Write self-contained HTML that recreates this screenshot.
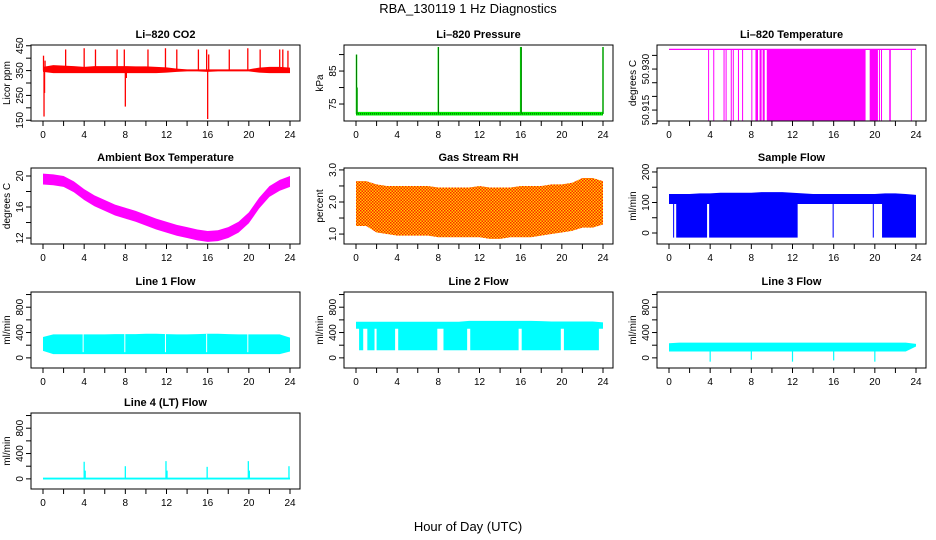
<!DOCTYPE html>
<html><head><meta charset="utf-8"><style>
html,body{margin:0;padding:0;background:#fff;}
svg{display:block;font-family:"Liberation Sans",Arial,sans-serif;}
</style></head><body>
<svg id="c" width="936" height="540" viewBox="0 0 936 540">
<defs>
<pattern id="rhpat" width="3" height="3" patternUnits="userSpaceOnUse"><rect width="3" height="3" fill="#ffd000"/><rect x="0" y="0" width="1.5" height="1.5" fill="#ff2000"/><rect x="1.5" y="1.5" width="1.5" height="1.5" fill="#ff2000"/></pattern>
</defs>
<text x="468" y="13" text-anchor="middle" font-size="13">RBA_130119  1 Hz Diagnostics</text>
<text x="468" y="531" text-anchor="middle" font-size="13">Hour of Day (UTC)</text>
</svg>
<script>
const hours = [0,1,2,3,4,5,6,7,8,9,10,11,12,13,14,15,16,17,18,19,20,21,22,23,24];
// CO2
const co2Lo = [345,340,340,340,340,340,340,340,340,340,340,340,342,345,347,347,345,347,347,347,347,342,340,340,340];
const co2Hi = [365,372,370,368,365,368,368,368,368,367,367,365,363,358,355,355,355,355,355,355,355,362,365,365,362];
const co2SpikeT = [0.05,0.1,0.15,0.2,2.2,4.0,5.1,7.2,7.9,8.0,8.1,10.2,11.9,13.0,15.1,15.9,16.0,16.1,18.1,19.9,21.1,23.0,23.3,23.8];
const co2SpikeV = [410,165,260,390,435,440,435,435,435,205,320,435,440,435,435,435,155,415,435,440,435,435,435,430];
// Pressure
const presLo = [71.5,71.5,71.5,71.5,71.5,71.5,71.5,71.5,71.5,71.5,71.5,71.5,71.5,71.5,71.5,71.5,71.5,71.5,71.5,71.5,71.5,71.5,71.5,71.5,71.5];
const presHi = [72.6,72.6,72.6,72.6,72.6,72.6,72.6,72.6,72.6,72.6,72.6,72.6,72.6,72.6,72.6,72.6,72.6,72.6,72.6,72.6,72.6,72.6,72.6,72.6,72.6];
const presSpikeT = [0.05,0.1,8.0,16.0,16.05,24.0];
const presSpikeV = [90,80,92.3,92.3,92.3,92.3];
// Li-820 temperature
const tempHigh = 50.9372, tempLow = 50.9112;
const tempDropStart = [3.8,4.3,5.3,5.5,6.0,6.2,6.7,7.1,8.0,8.4,8.8,9.1,9.5,19.5,20.4,20.6,21.4,23.5];
const tempDropEnd   = [3.85,4.35,5.35,5.55,6.1,6.25,6.8,7.2,8.05,8.65,9.0,9.3,19.1,20.3,20.45,20.65,21.55,23.55];
// Ambient box temp
const ambMid = [19.6,19.5,19.3,18.6,17.6,16.8,16.2,15.6,15.2,14.8,14.3,13.8,13.4,13.0,12.7,12.4,12.2,12.3,12.7,13.4,14.6,16.5,18.0,18.8,19.3];
const ambHalf = [0.7,0.7,0.7,0.7,0.7,0.7,0.7,0.7,0.7,0.7,0.7,0.7,0.7,0.7,0.7,0.7,0.7,0.7,0.7,0.7,0.7,0.7,0.7,0.7,0.7];
// Gas stream RH
const rhLo = [1.25,1.25,1.05,1.0,0.95,0.95,0.95,0.95,0.9,0.9,0.9,0.9,0.9,0.85,0.85,0.9,0.9,0.9,0.95,1.0,1.05,1.1,1.2,1.2,1.3];
const rhHi = [2.65,2.65,2.55,2.5,2.5,2.5,2.5,2.5,2.45,2.45,2.45,2.45,2.5,2.45,2.45,2.45,2.5,2.5,2.5,2.55,2.55,2.6,2.75,2.75,2.65];
// Sample flow
const sfLo = [95,95,95,95,95,95,95,95,95,95,95,95,95,95,95,95,95,95,95,95,95,95,95,95,95];
const sfHi = [128,128,128,130,130,132,132,132,132,134,134,134,132,130,128,128,128,128,128,128,128,130,130,128,125];
const sfDenseStart = [0.4,0.7,3.9,15.9,19.8,20.7];
const sfDenseEnd   = [0.5,3.7,12.5,16.0,19.9,24.0];
const sfDenseLow = -15;
// Line 1
const l1Lo = [110,60,60,60,60,60,60,60,60,60,60,60,60,60,60,60,60,60,60,60,60,60,60,60,100];
const l1Hi = [330,370,370,370,370,370,370,375,375,375,380,380,375,370,370,375,380,380,375,370,370,370,370,370,320];
const l1GapT = [3.9,7.95,11.9,15.9,19.9];
// Line 2
const l2Lo = [460,460,460,460,460,460,460,460,460,460,460,460,460,460,460,460,460,460,460,460,460,460,460,460,460];
const l2Hi = [570,570,570,570,570,570,570,570,570,570,570,585,585,585,585,585,585,585,580,575,575,575,575,575,560];
const l2DenseStart = [0.3,1.1,2.0,4.1,8.5,11.1,16.1,20.2];
const l2DenseEnd   = [0.7,1.8,3.8,7.9,10.8,15.8,19.9,23.6];
const l2DenseLow = 120;
// Line 3
const l3Lo = [100,100,100,100,100,100,100,100,100,100,100,100,100,100,100,100,100,100,100,100,100,100,100,100,180];
const l3Hi = [230,240,240,240,240,240,240,240,240,240,240,240,240,240,240,240,240,240,240,240,240,240,240,240,220];
const l3DipT = [4.0,8.0,12.0,16.0,20.0];
const l3DipV = [-60,-30,-60,-40,-60];
// Line 4
const l4Lo = [-10,-10,-10,-10,-10,-10,-10,-10,-10,-10,-10,-10,-10,-10,-10,-10,-10,-10,-10,-10,-10,-10,-10,-10,-10];
const l4Hi = [20,20,20,20,20,20,20,20,20,20,20,20,20,20,20,20,20,20,20,20,20,20,20,20,20];
const l4SpikeT = [4.0,4.1,8.0,11.95,12.05,15.95,19.95,20.05,23.9];
const l4SpikeV = [270,130,200,280,130,190,280,130,200];

const NS='http://www.w3.org/2000/svg';
const svg=document.getElementById('c');
function mk(tag,attrs,parent){const e=document.createElementNS(NS,tag);for(const k in attrs)e.setAttribute(k,attrs[k]);(parent||svg).appendChild(e);return e;}
const colL=[31,344,657], rowT=[45,168,292,413], BW=269, BH=76;

function panel(col,row,name,title,ylab,ymin,ymax,ticks,labels){
  const L=colL[col],T=rowT[row];
  const g=mk('g',{});
  
  
  const p={L,T,g,
    x:h=>L+12+h*(BW-22)/24,
    y:v=>T+BH-(v-ymin)/(ymax-ymin)*BH};
  const data=mk('g',{},g);
  
  
  p.d=data;
  p.finish=function(){
    const b=mk('rect',{x:L,y:T,width:BW,height:BH,fill:'none',stroke:'#000','stroke-width':1},g);
    
    
    const t=mk('text',{x:L+BW/2,y:T-7,'text-anchor':'middle','font-size':11,'font-weight':'bold'},g);
    t.textContent=title;
    
    
    const yl=mk('text',{x:0,y:0,'text-anchor':'middle','font-size':10,transform:`translate(${L-21},${T+BH/2}) rotate(-90)`},g);
    yl.textContent=ylab;
    
    
    const xa=mk('g',{},g);
    
    
    mk('line',{x1:p.x(0),x2:p.x(24),y1:T+BH,y2:T+BH,stroke:'#000'},xa);
    for(let h=0;h<=24;h+=2){
      mk('line',{x1:p.x(h),x2:p.x(h),y1:T+BH,y2:T+BH+5,stroke:'#000'},xa);
      if(h%4===0){const tl=mk('text',{x:p.x(h),y:T+BH+17,'text-anchor':'middle','font-size':10},xa);tl.textContent=h;}
    }
    const ya=mk('g',{},g);
    
    
    mk('line',{x1:L,x2:L,y1:p.y(ticks[0]),y2:p.y(ticks[ticks.length-1]),stroke:'#000'},ya);
    ticks.forEach((v,i)=>{
      mk('line',{x1:L-5,x2:L,y1:p.y(v),y2:p.y(v),stroke:'#000'},ya);
      if(labels[i]){const tl=mk('text',{x:0,y:0,'text-anchor':'middle','font-size':10,transform:`translate(${L-8},${p.y(v)}) rotate(-90)`},ya);tl.textContent=labels[i];}
    });
  };
  return p;
}
function band(p,lo,hi,fill){
  let pts=hours.map((h,i)=>p.x(h)+','+p.y(hi[i]));
  pts=pts.concat(hours.slice().reverse().map((h,j)=>{const i=hours.length-1-j;return p.x(h)+','+p.y(lo[i]);}));
  mk('polygon',{points:pts.join(' '),fill:fill},p.d);
}
function vline(p,t,v0,v1,color,w){mk('line',{x1:p.x(t),x2:p.x(t),y1:p.y(v0),y2:p.y(v1),stroke:color,'stroke-width':w||1.2},p.d);}
function span(p,a,b,v0,v1,fill){mk('rect',{x:p.x(a),y:p.y(v1),width:Math.max(1,p.x(b)-p.x(a)),height:p.y(v0)-p.y(v1),fill:fill},p.d);}

// CO2
let p=panel(0,0,'co2','Li\u2013820 CO2','Licor ppm',147,453,[150,200,250,300,350,400,450],['150','','250','','350','','450']);
band(p,co2Lo,co2Hi,'#ff0000');
co2SpikeT.forEach((t,i)=>vline(p,t,350,co2SpikeV[i],'#ff0000',1.3));
p.finish();
// Pressure
p=panel(1,0,'pressure','Li\u2013820 Pressure','kPa',69.85,92.9,[75,80,85,90],['75','','85','']);
band(p,presLo,presHi,'#00ee00');
mk('line',{x1:p.x(0),x2:p.x(24),y1:p.y(72),y2:p.y(72),stroke:'#004400','stroke-dasharray':'1,1'},p.d);
presSpikeT.forEach((t,i)=>{vline(p,t,72,presSpikeV[i],'#00ee00',1.5);vline(p,t,72,presSpikeV[i],'#003300',0.6);});
p.finish();
// Li-820 temp
p=panel(2,0,'li820-temperature','Li\u2013820 Temperature','degrees C',50.911,50.9388,[50.91,50.915,50.92,50.925,50.93,50.935],['','50.915','','','50.930','']);
mk('line',{x1:p.x(0),x2:p.x(24),y1:p.y(tempHigh),y2:p.y(tempHigh),stroke:'#ff00ff','stroke-width':1.2},p.d);
tempDropStart.forEach((a,i)=>span(p,a,tempDropEnd[i],tempLow,tempHigh,'#ff00ff'));
p.finish();
// Ambient
p=panel(0,1,'ambient-temperature','Ambient Box Temperature','degrees C',11.23,21.03,[12,14,16,18,20],['12','','16','','20']);
band(p,ambMid.map((m,i)=>m-ambHalf[i]),ambMid.map((m,i)=>m+ambHalf[i]),'#ff00ff');
p.finish();
// RH
p=panel(1,1,'gas-stream-rh','Gas Stream RH','percent',0.69,3.06,[1.0,1.5,2.0,2.5,3.0],['1.0','','2.0','','3.0']);
band(p,rhLo,rhHi,'url(#rhpat)');
p.finish();
// Sample flow
p=panel(2,1,'sample-flow','Sample Flow','ml/min',-36,213,[0,50,100,150,200],['0','','100','','200']);
band(p,sfLo,sfHi,'#0000ff');
sfDenseStart.forEach((a,i)=>span(p,a,sfDenseEnd[i],sfDenseLow,100,'#0000ff'));
p.finish();
const flowT=[0,200,400,600,800,1000], flowL=['0','','400','','800',''];
// Line 1
p=panel(0,2,'line1-flow','Line 1 Flow','ml/min',-160,1040,flowT,flowL);
band(p,l1Lo,l1Hi,'#00ffff');
l1GapT.forEach(t=>vline(p,t,l1Lo[0]-20,380,'#ffffff',1));
p.finish();
// Line 2
p=panel(1,2,'line2-flow','Line 2 Flow','ml/min',-160,1040,flowT,flowL);
band(p,l2Lo,l2Hi,'#00ffff');
l2DenseStart.forEach((a,i)=>span(p,a,l2DenseEnd[i],l2DenseLow,470,'#00ffff'));
p.finish();
// Line 3
p=panel(2,2,'line3-flow','Line 3 Flow','ml/min',-160,1040,flowT,flowL);
band(p,l3Lo,l3Hi,'#00ffff');
l3DipT.forEach((t,i)=>vline(p,t,l3DipV[i],200,'#00ffff',1.2));
p.finish();
// Line 4
p=panel(0,3,'line4-flow','Line 4 (LT) Flow','ml/min',-160,1040,flowT,flowL);
band(p,l4Lo,l4Hi,'#00ffff');
l4SpikeT.forEach((t,i)=>vline(p,t,0,l4SpikeV[i],'#00ffff',1.3));
p.finish();
</script>
</body></html>
